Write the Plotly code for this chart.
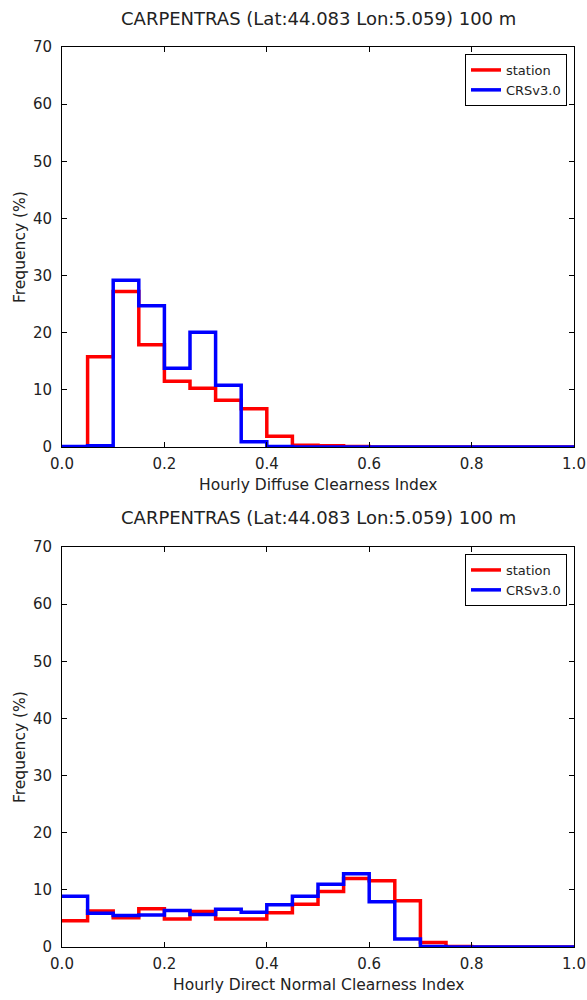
import plotly.graph_objects as go
from plotly.subplots import make_subplots

title_text = "CARPENTRAS (Lat:44.083 Lon:5.059) 100 m"
bin_edges = [round(i * 0.05, 2) for i in range(21)]

# Top: Hourly Diffuse Clearness Index (frequency %, per 0.05 bin)
diffuse_station = [0.0, 15.8, 27.2, 17.9, 11.5, 10.3, 8.2, 6.7, 1.9, 0.3,
                   0.2, 0.1, 0.0, 0.0, 0.0, 0.0, 0.0, 0.0, 0.0, 0.0]
diffuse_crs = [0.1, 0.2, 29.2, 24.7, 13.8, 20.1, 10.8, 0.9, 0.1, 0.0,
               0.0, 0.0, 0.0, 0.0, 0.0, 0.0, 0.0, 0.0, 0.0, 0.0]

# Bottom: Hourly Direct Normal Clearness Index
direct_station = [4.6, 6.3, 5.1, 6.7, 4.9, 6.2, 4.9, 4.9, 6.0, 7.5,
                  9.7, 12.0, 11.6, 8.1, 0.8, 0.1, 0.0, 0.0, 0.0, 0.0]
direct_crs = [8.9, 5.9, 5.5, 5.6, 6.4, 5.7, 6.6, 6.1, 7.4, 8.9,
              11.0, 12.8, 7.9, 1.4, 0.1, 0.0, 0.0, 0.0, 0.0, 0.0]

series_names = ["station", "CRSv3.0"]
series_colors = ["#ff0000", "#0000ff"]
xlabels = ["Hourly Diffuse Clearness Index", "Hourly Direct Normal Clearness Index"]
ylabel = "Frequency (%)"
xtick_vals = [0.0, 0.2, 0.4, 0.6, 0.8, 1.0]
xtick_text = ["0.0", "0.2", "0.4", "0.6", "0.8", "1.0"]
ytick_vals = [0, 10, 20, 30, 40, 50, 60, 70]


def step_xy(edges, vals):
    xs = edges[:-1] + [edges[-1], edges[-1]]
    ys = vals + [vals[-1], 0]
    return xs, ys


fig = make_subplots(rows=2, cols=1, vertical_spacing=100 / 900)

panels = [(diffuse_station, diffuse_crs), (direct_station, direct_crs)]
for r, (st, crs) in enumerate(panels, start=1):
    for name, color, vals in zip(series_names, series_colors, [st, crs]):
        xs, ys = step_xy(bin_edges, vals)
        fig.add_trace(go.Scatter(
            x=xs, y=ys, mode="lines", line=dict(color=color, width=3.5, shape="hv"),
            name=name, legend="legend" if r == 1 else "legend2", showlegend=True,
        ), row=r, col=1)

font_family = "DejaVu Sans"
axis_common = dict(
    showline=True, linecolor="black", linewidth=1, mirror="ticks",
    ticks="inside", ticklen=5, tickcolor="black", showgrid=False, zeroline=False,
    tickfont=dict(family=font_family, size=15, color="#222222"), automargin=False,
)

for r in (1, 2):
    fig.update_xaxes(range=[0, 1], tickvals=xtick_vals, ticktext=xtick_text,
                     ticklabelstandoff=3, row=r, col=1, **axis_common)
    fig.update_yaxes(range=[0, 70], tickvals=ytick_vals, ticklabelstandoff=6,
                     row=r, col=1, **axis_common)

legend_common = dict(
    xanchor="right", yanchor="top", bgcolor="white", bordercolor="black", borderwidth=1,
    font=dict(family=font_family, size=13, color="#222222"), tracegroupgap=0,
    itemwidth=30,
)

ann = []
# subplot titles
for ypix in (18, 517):
    ann.append(dict(text=title_text, xref="paper", yref="paper", x=0.5, y=(947 - ypix) / 900,
                    xanchor="center", yanchor="middle", showarrow=False,
                    font=dict(family=font_family, size=18, color="#222222")))
# x labels
for ypix, lbl in zip((485, 985), xlabels):
    ann.append(dict(text=lbl, xref="paper", yref="paper", x=0.5, y=(947 - ypix) / 900,
                    xanchor="center", yanchor="middle", showarrow=False,
                    font=dict(family=font_family, size=15.5, color="#222222")))
# y labels
for ypix in (247, 747):
    ann.append(dict(text=ylabel, xref="paper", yref="paper", x=(20 - 62) / 512, y=(947 - ypix) / 900,
                    xanchor="center", yanchor="middle", showarrow=False, textangle=-90,
                    font=dict(family=font_family, size=15.5, color="#222222")))

fig.update_layout(
    width=587, height=1000,
    margin=dict(l=62, r=13, t=47, b=53),
    paper_bgcolor="white", plot_bgcolor="white",
    font=dict(family=font_family, color="#222222"),
    legend=dict(x=(567 - 62) / 512, y=(947 - 54) / 900, **legend_common),
    legend2=dict(x=(567 - 62) / 512, y=(947 - 554) / 900, **legend_common),
    annotations=ann,
)

# remove the page's default body margin so the figure sits at the window origin
fig.write_html("out.html", config={"displayModeBar": False},
               post_script="document.body.style.margin='0';document.body.style.overflow='hidden';")
